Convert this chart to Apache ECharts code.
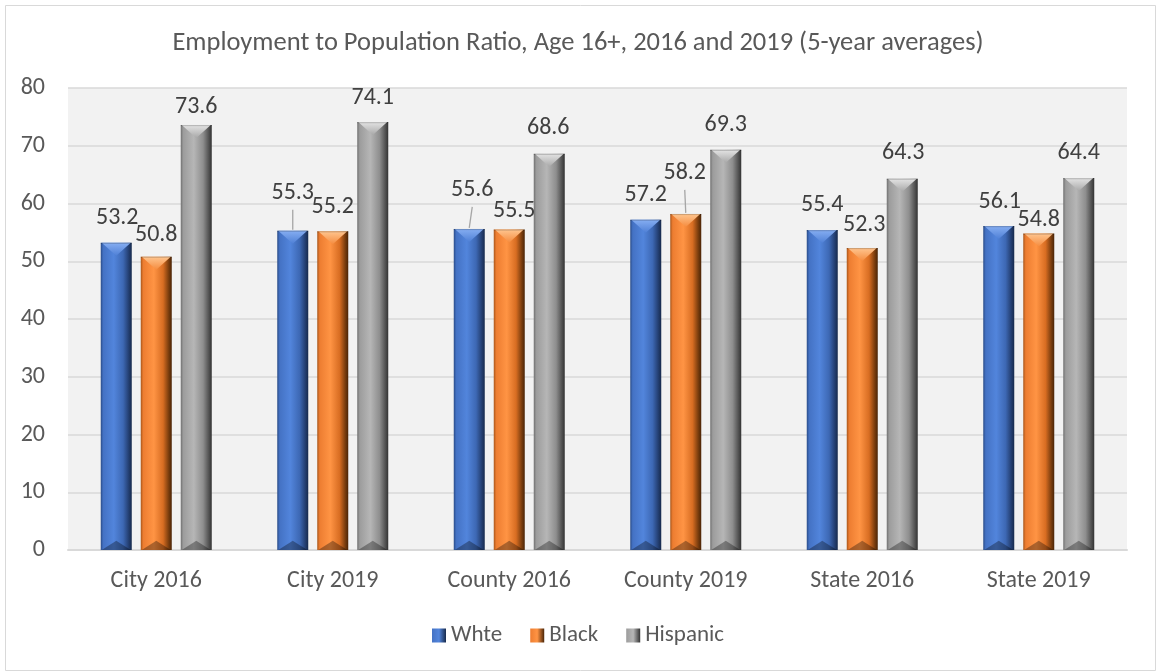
<!DOCTYPE html>
<html>
<head>
<meta charset="utf-8">
<script src="https://cdn.jsdelivr.net/npm/echarts@6/dist/echarts.min.js"></script>
<style>
  html, body { margin: 0; padding: 0; background: #ffffff; }
  #chart { width: 1156px; height: 671px; }
</style>
</head>
<body>
<div id="chart"></div>
<script>
// ---- data ----
const categories = ['City 2016', 'City 2019', 'County 2016', 'County 2019', 'State 2016', 'State 2019'];
const seriesNames = ['Whte', 'Black', 'Hispanic'];
const white = [53.2, 55.3, 55.6, 57.2, 55.4, 56.1];
const black = [50.8, 55.2, 55.5, 58.2, 52.3, 54.8];
const hispanic = [73.6, 74.1, 68.6, 69.3, 64.3, 64.4];
const yMin = 0, yMax = 80, yStep = 10;

// ---- layout: label nudges [dx, dy, leader line] relative to bar centre / bar top ----
const labelNudge = [
  [[1, -25], [0, -38, true], [3, -39, true], [0, -25], [0, -25], [1, -24]],
  [[0, -22], [0, -24], [5, -18], [-1, -41, true], [2, -23], [0, -14]],
  [[0, -18], [0, -24], [-1, -26], [0, -25], [1, -26], [0, -25]]
];

// ---- bar look: horizontal shading plus bevelled top and bottom ----
const palette = [
  { body: ['#2a4c88', '#4472c4', '#5285dc', '#3d68b4', '#243f72', '#172a4c'], top: ['#86aef2', '#4f80d6'] },
  { body: ['#a9561a', '#ed7d31', '#ff9444', '#d86d22', '#7a3d0e', '#4a2406'], top: ['#ffc690', '#f58c3f'] },
  { body: ['#707070', '#9c9c9c', '#b6b6b6', '#8e8e8e', '#545454', '#333333'], top: ['#e4e4e4', '#a8a8a8'] }
];
const BAR_FRAC = 31 / 176.5;
const STEP_FRAC = 40 / 176.5;
const font = 'Carlito, Calibri, Lato, "Open Sans", sans-serif';
const labelSize = 24;

function bodyGradient(c) {
  return new echarts.graphic.LinearGradient(0, 0, 1, 0, [
    { offset: 0, color: c[0] }, { offset: 0.08, color: c[1] },
    { offset: 0.42, color: c[2] }, { offset: 0.72, color: c[3] },
    { offset: 0.9, color: c[4] }, { offset: 1, color: c[5] }
  ]);
}

function makeRenderer(si) {
  const pal = palette[si];
  return function (params, api) {
    const cat = api.value(0);
    const val = api.value(1);
    const base = api.coord([cat, 0]);
    const tip = api.coord([cat, val]);
    const band = api.size([1, 0])[0];
    const w = band * BAR_FRAC;
    const cx = base[0] + (si - 1) * band * STEP_FRAC;
    const x0 = cx - w / 2, x1 = cx + w / 2;
    const y0 = tip[1], y1 = base[1];
    const bTop = w * 0.42, bBot = w * 0.3;
    const nudge = labelNudge[si][params.dataIndex];
    const lx = cx + nudge[0], ly = y0 + nudge[1];
    const children = [
      { type: 'rect', shape: { x: x0, y: y0, width: w, height: y1 - y0 },
        style: { fill: bodyGradient(pal.body) } },
      { type: 'polygon', shape: { points: [[x0 + 1, y0], [x1 - 1, y0], [cx, y0 + bTop]] },
        style: { fill: new echarts.graphic.LinearGradient(0, 0, 0, 1, [
          { offset: 0, color: pal.top[0] }, { offset: 1, color: pal.top[1] }]) } },
      { type: 'rect', shape: { x: x0, y: y0, width: w, height: 1.2 },
        style: { fill: 'rgba(0,0,0,0.18)' } },
      { type: 'polygon', shape: { points: [[x0 + 1, y1], [x1 - 1, y1], [cx, y1 - bBot]] },
        style: { fill: 'rgba(0,0,0,0.32)' } },
      { type: 'text', x: lx, y: ly, z2: 10,
        style: { text: val.toFixed(1), fill: '#404040', font: labelSize + 'px ' + font,
          align: 'center', verticalAlign: 'middle' } }
    ];
    if (nudge[2]) {
      children.push({ type: 'line',
        shape: { x1: lx, y1: ly + 17, x2: cx, y2: y0 - 1 },
        style: { stroke: '#a6a6a6', lineWidth: 1.3 } });
    }
    return { type: 'group', children: children };
  };
}

const seriesValues = [white, black, hispanic];
const series = seriesValues.map(function (vals, si) {
  return {
    name: seriesNames[si],
    type: 'custom',
    renderItem: makeRenderer(si),
    itemStyle: { color: new echarts.graphic.LinearGradient(0, 0, 1, 0, [
      { offset: 0, color: palette[si].body[1] }, { offset: 0.5, color: palette[si].body[2] },
      { offset: 1, color: palette[si].body[5] }]) },
    encode: { x: 0, y: 1 },
    data: vals.map(function (v, i) { return [i, v]; })
  };
});

const chart = echarts.init(document.getElementById('chart'), null, { renderer: 'canvas' });
chart.setOption({
  animation: false,
  backgroundColor: '#ffffff',
  textStyle: { fontFamily: font },
  title: {
    text: 'Employment to Population Ratio, Age 16+, 2016 and 2019 (5-year averages)',
    left: 'center', top: 25,
    textStyle: { fontSize: 26.5, fontWeight: 'normal', color: '#595959', fontFamily: font }
  },
  graphic: [{
    type: 'rect', left: 3, top: 3, z: -10,
    shape: { width: 1150, height: 665 },
    style: { fill: 'none', stroke: '#d9d9d9', lineWidth: 1 }
  }],
  grid: {
    left: 68, right: 29, top: 88, bottom: 121,
    show: true, backgroundColor: '#f2f2f2', borderWidth: 0
  },
  legend: {
    bottom: 19, left: 'center',
    icon: 'rect', itemWidth: 14, itemHeight: 14, itemGap: 28,
    textStyle: { fontSize: 23, color: '#595959', fontFamily: font },
    data: seriesNames
  },
  xAxis: {
    type: 'category',
    data: categories,
    axisTick: { show: false },
    axisLine: { lineStyle: { color: '#d9d9d9', width: 2 } },
    axisLabel: { fontSize: labelSize, color: '#595959', margin: 19, fontFamily: font },
    splitLine: { show: false }
  },
  yAxis: {
    type: 'value',
    min: yMin, max: yMax, interval: yStep,
    axisLine: { show: false },
    axisTick: { show: false },
    axisLabel: { fontSize: labelSize, color: '#595959', margin: 23, fontFamily: font },
    splitLine: { lineStyle: { color: '#d9d9d9', width: 1.5 } }
  },
  series: series
});
</script>
</body>
</html>
